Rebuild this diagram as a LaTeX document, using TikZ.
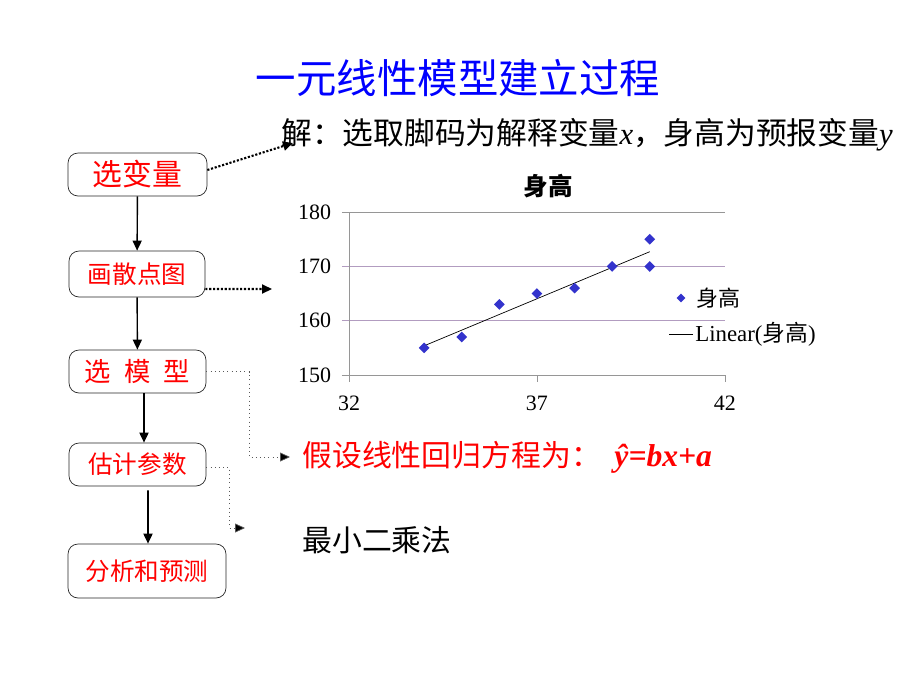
\documentclass[tikz,border=0pt]{standalone}
\usepackage{fontspec}
\setmainfont{Noto Sans CJK SC}
\newfontfamily\tms{Liberation Serif}
\usetikzlibrary{arrows.meta,shapes.geometric}
\definecolor{ttlblue}{RGB}{0,0,255}
\definecolor{ptblue}{RGB}{51,51,204}
\definecolor{gridgray}{RGB}{150,150,150}
\definecolor{gridlav}{RGB}{178,156,192}
\newcommand{\fsz}[1]{\fontsize{#1}{#1}\selectfont}

\begin{document}
\begin{tikzpicture}[x=0.02cm,y=-0.02cm,
  stage/.style={draw=black!85,rounded corners=2mm,text=red,inner sep=0pt},
  flow/.style={-{Triangle[length=2mm,width=1.8mm]},line width=1pt},
  hint/.style={-{Triangle[length=2mm,width=1.8mm]},line width=1.2pt,densely dotted},
  fine/.style={-{Triangle[length=2mm,width=1.8mm,fill=black]},gray!70!black,thin,dotted},
  pt/.style={diamond,fill=ptblue,inner sep=0pt,minimum size=2.2mm}]
\useasboundingbox (0,0) rectangle (920,690);

\node[text=ttlblue,font=\fsz{23pt}] (title) at (458,78) {一元线性模型建立过程};
\node[anchor=west,inner sep=0pt,font=\fsz{17.5pt}] (sol) at (281,135) {解：选取脚码为解释变量{\tms\itshape x}，身高为预报变量{\tms\itshape y}};

\node[stage,minimum width=2.78cm,minimum height=0.86cm,font=\fsz{17pt}] (vars) at (137.5,174.5) {选变量};
\node[stage,minimum width=2.72cm,minimum height=0.92cm,font=\fsz{14pt}] (scat) at (137,274) {画散点图};
\node[stage,minimum width=2.74cm,minimum height=0.86cm,font=\fsz{15pt}] (model) at (137.5,371.5) {选\hspace{.5em}模\hspace{.5em}型};
\node[stage,minimum width=2.74cm,minimum height=0.86cm,font=\fsz{14pt}] (param) at (137.5,464.5) {估计参数};
\node[stage,minimum width=3.16cm,minimum height=1.08cm,font=\fsz{14pt}] (pred) at (147,571) {分析和预测};

\draw[flow,line width=.8pt] (vars) -- (scat);
\draw[flow,line width=.8pt] (scat) -- (model);
\draw[flow] ([xshift=0.13cm]model.south) -- ([xshift=0.13cm]param.north);
\draw[flow] ([xshift=0.21cm,yshift=-0.08cm]param.south) -- ([xshift=0.02cm]pred.north);

\node[anchor=west,inner sep=0pt,text=red,font=\fsz{17pt}] (hyp) at (302,457) {假设线性回归方程为：\hspace{.45em}{\tms\bfseries\itshape\fsz{18pt}\^{y}=bx+a}};
\node[anchor=west,inner sep=0pt,font=\fsz{17pt}] (lsq) at (302,540) {最小二乘法};

\coordinate (e1) at (293,143);
\coordinate (e2) at (272,289);
\coordinate (e4) at (245,528);
\draw[hint] ([yshift=0.09cm]vars.east) -- (e1);
\draw[hint] ([yshift=-0.3cm]scat.east) -- (e2);
\draw[fine] (model.east) -| (249,457) -- ([xshift=-0.24cm]hyp.west);
\draw[fine] ([yshift=-0.05cm]param.east) -| (229,528) -- (e4);

\node[font=\bfseries\fsz{14pt}] (ctitle) at (548,186) {身高};
\begin{scope}[shift={(349,375)},x=0.752cm,y=0.1086cm]
\draw[gridgray] (-0.19,30) -- (10,30);
\draw[gridlav] (-0.19,20) -- (10,20);
\draw[gridlav] (-0.19,10) -- (10,10);
\draw[gridgray] (-0.19,0) -- (10,0);
\draw[gridgray] (0,30) -- (0,-1.3);
\draw[gridgray] (5,0) -- (5,-1.3);
\draw[gridgray] (10,0) -- (10,-1.3);
\foreach \v in {150,160,170,180}
  \node[anchor=east,inner sep=0pt,font=\tms\fsz{12.5pt}] at (-0.47,\v-150) {\v};
\foreach \v in {32,37,42}
  \node[inner sep=0pt,font=\tms\fsz{12.5pt}] at (\v-32,-5.2) {\v};
\draw (2,5.38) -- (8,22.71);
\foreach \a/\b in {34/155,35/157,36/163,37/165,38/166,39/170,40/170,40/175}
  \node[pt] at (\a-32,\b-150) {};
\end{scope}

\node[pt,minimum size=1.8mm] (lgpt) at (681,298) {};
\node[anchor=west,inner sep=0pt,font=\fsz{12.5pt}] (lgtxt) at (696,298) {身高};
\node[anchor=west,inner sep=0pt,font=\fsz{13pt}] (lglin) at (695,334) {{\tms Linear(}身高{\tms )}};
\draw ([xshift=-0.04cm]lglin.west) -- ++(-24,0);
\end{tikzpicture}
\end{document}
